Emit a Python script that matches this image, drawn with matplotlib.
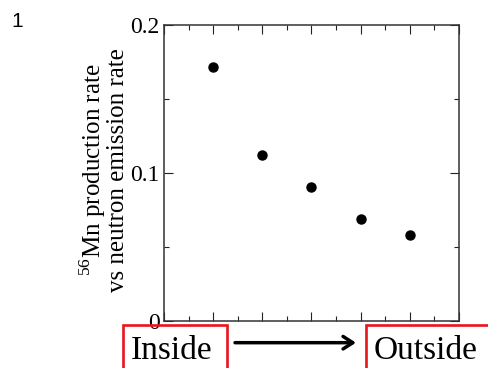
import matplotlib
matplotlib.use('Agg')
import matplotlib.pyplot as plt
from matplotlib.patches import Rectangle
from matplotlib.ticker import MultipleLocator

# position index (inside -> outside) and 56Mn production / neutron emission ratio
positions = [1, 2, 3, 4, 5]
mn_ratio = [0.172, 0.112, 0.0907, 0.0691, 0.0583]
y_ticks = [0, 0.1, 0.2]
y_tick_labels = ['0', '0.1', '0.2']

plt.rcParams['font.family'] = 'Liberation Serif'
plt.rcParams['mathtext.fontset'] = 'custom'
plt.rcParams['mathtext.rm'] = 'Liberation Serif'

fig = plt.figure(figsize=(4.88, 3.68), dpi=100)
ax = fig.add_axes([0.336, 0.127, 0.6046, 0.8044])

ax.plot(positions, mn_ratio, 'o', color='black', ms=6.5)

ax.set_xlim(0, 6)
ax.set_ylim(0, 0.2)
ax.xaxis.set_major_locator(MultipleLocator(1))
ax.xaxis.set_minor_locator(MultipleLocator(0.5))
ax.set_yticks(y_ticks)
ax.set_yticklabels(y_tick_labels)
ax.yaxis.set_minor_locator(MultipleLocator(0.05))
ax.tick_params(which='both', direction='in', top=True, right=True,
               labelbottom=False, width=0.8, color='#222222')
ax.tick_params(which='major', length=6.5, labelsize=17, pad=3)
ax.tick_params(which='minor', length=3.6)
for s in ax.spines.values():
    s.set_linewidth(1.1)
    s.set_color('#333333')

# y label (two lines)
fig.text(0.211, 0.5386, '$^{56}$Mn production rate\nvs neutron emission rate',
         rotation=90, ha='center', va='center', multialignment='center',
         fontsize=18, linespacing=0.95)

# panel number
fig.text(0.024, 0.968, '1', family='Liberation Sans', fontsize=15, va='top')

# Inside / Outside boxes with arrow
red = '#e8141c'
fig.patches.append(Rectangle((0.2514, -0.2), 0.2131, 0.3168, transform=fig.transFigure,
                             fill=False, edgecolor=red, lw=1.9))
fig.patches.append(Rectangle((0.7494, -0.2), 0.3, 0.3168, transform=fig.transFigure,
                             fill=False, edgecolor=red, lw=1.9))
fig.text(0.2678, 0.0236, 'Inside', fontsize=24, va='baseline')
fig.text(0.7664, 0.0236, 'Outside', fontsize=24, va='baseline')
ax.annotate('', xy=(0.7295, 0.0688), xytext=(0.4816, 0.0688),
            xycoords='figure fraction', textcoords='figure fraction',
            arrowprops=dict(arrowstyle='->,head_length=0.7,head_width=0.45',
                            lw=2.5, color='black', shrinkA=0, shrinkB=0),
            annotation_clip=False)

fig.savefig('out.png', dpi=100)
